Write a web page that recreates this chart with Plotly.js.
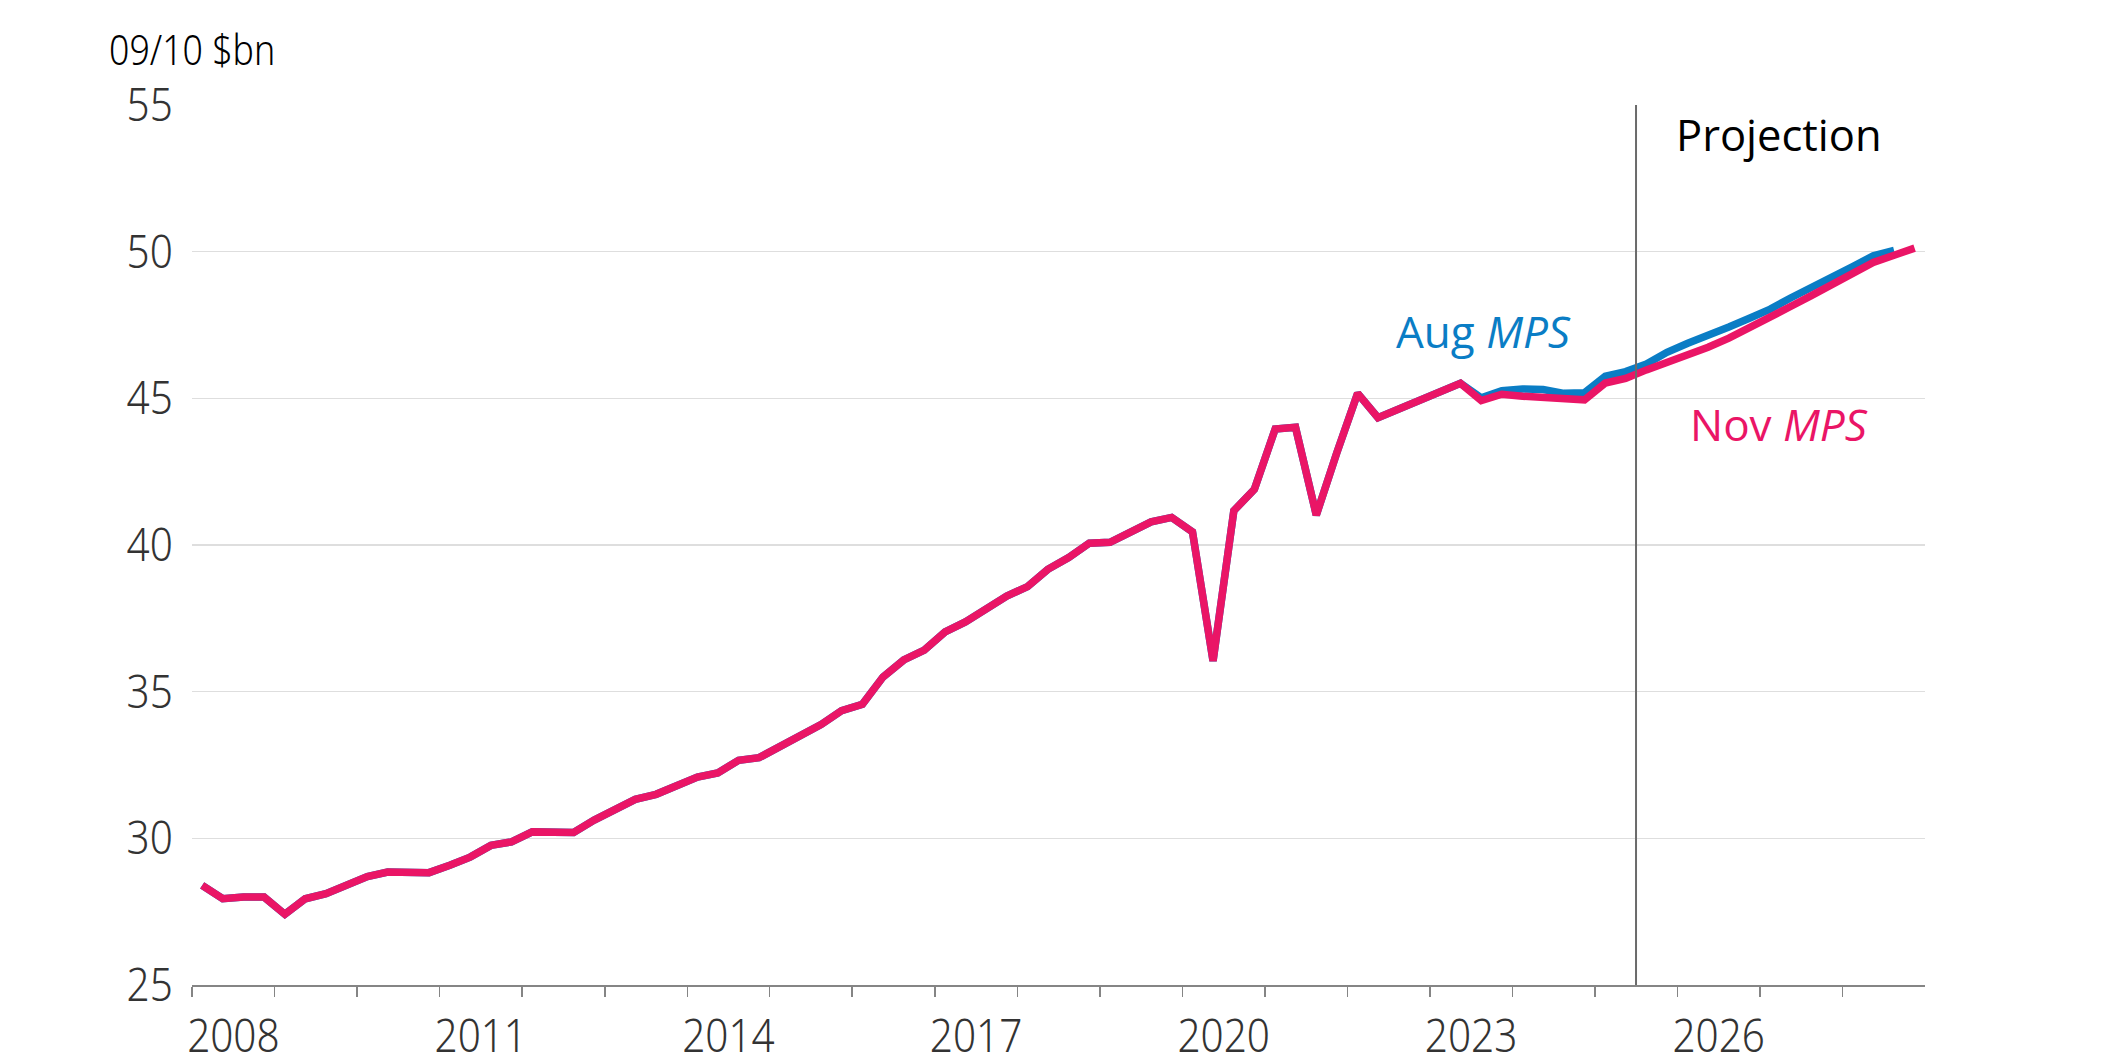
<!DOCTYPE html>
<html>
<head>
<meta charset="utf-8">
<script src="https://cdn.plot.ly/plotly-3.0.1.min.js"></script>
<style>
  html, body { margin: 0; padding: 0; background: #ffffff; }
  #chart { width: 2116px; height: 1059px; }
  /* narrow unit label */
  #chart .annotation[data-index="0"] text {
    transform-box: fill-box; transform-origin: left center; transform: scaleX(0.85);
  }
</style>
</head>
<body>
<div id="chart"></div>
<script>
// Quarterly series, 09/10 $bn. Quarters run from 2008 Q1.
const firstYear = 2008;

// Outturns common to both forecast rounds (2008 Q1 – 2023 Q2)
const sharedHistory = [
  28.40, 27.94, 28.00, 28.00, 27.41, 27.94, 28.11, 28.42,
  28.70, 28.85, 28.85, 28.83, 29.08, 29.36, 29.76, 29.88,
  30.22, 30.20, 30.20, 30.62, 30.98, 31.33, 31.50, 31.79,
  32.09, 32.23, 32.66, 32.75, 33.14, 33.48, 33.88, 34.35,
  34.57, 35.50, 36.08, 36.42, 37.04, 37.38, 37.80, 38.26,
  38.58, 39.17, 39.57, 40.06, 40.09, 40.45, 40.79, 40.94,
  40.45, 36.05, 41.17, 41.90, 43.95, 44.01, 41.02, 43.15,
  45.17, 44.34, 44.63, 44.91, 45.19, 45.51
];

// August MPS: 2023 Q3 – 2028 Q3
const augRecent = [
  45.02, 45.26, 45.32, 45.30, 45.17, 45.19, 45.75, 45.91,
  46.17, 46.57, 46.88, 47.13, 47.43, 47.73, 48.04, 48.42,
  48.76, 49.15, 49.49, 49.86, 50.04
];

// November MPS: 2023 Q3 – 2028 Q4
const novRecent = [
  44.92, 45.14, 45.07, 45.04, 44.95, 44.95, 45.52, 45.68,
  45.97, 46.22, 46.48, 46.74, 47.05, 47.43, 47.79, 48.13,
  48.50, 48.89, 49.27, 49.63, 49.88, 50.12
];

const augMPS = sharedHistory.concat(augRecent);
const novMPS = sharedHistory.concat(novRecent);

// Labelled years and axis settings
const labelYears = [2008, 2011, 2014, 2017, 2020, 2023, 2026];
const yTicks = [25, 30, 35, 40, 45, 50, 55];
const projectionStart = '2025-07-01';

const blue = '#0a7dc5';
const pink = '#ea1566';
const numberFont = '"Noto Sans", sans-serif';
const labelFont = '"Open Sans", "Noto Sans", sans-serif';

// Middle of each quarter, as a date string
function quarterDate(i) {
  const y = firstYear + Math.floor(i / 4);
  const mid = ['02-15', '05-16', '08-16', '11-15'][i % 4];
  return y + '-' + mid;
}
const datesFor = arr => arr.map((_, i) => quarterDate(i));

const yearStarts = [];
for (let y = firstYear; y <= 2028; y++) yearStarts.push(y + '-01-01');

const traces = [
  {
    x: datesFor(augMPS), y: augMPS, type: 'scatter', mode: 'lines',
    name: 'Aug MPS', line: { color: blue, width: 7.5, shape: 'linear' },
    hoverinfo: 'skip'
  },
  {
    x: datesFor(novMPS), y: novMPS, type: 'scatter', mode: 'lines',
    name: 'Nov MPS', line: { color: pink, width: 7.5, shape: 'linear' },
    hoverinfo: 'skip'
  }
];

const tickFont = { family: numberFont, size: 46, color: '#333333', weight: 300 };

const layout = {
  width: 2116, height: 1059,
  margin: { l: 192, r: 191, t: 105, b: 74, pad: 0 },
  paper_bgcolor: '#ffffff', plot_bgcolor: '#ffffff',
  showlegend: false,
  xaxis: {
    type: 'date',
    range: ['2008-01-01', '2028-12-31'],
    showgrid: false, zeroline: false,
    showline: true, linecolor: '#858585', linewidth: 2,
    tickmode: 'array',
    tickvals: labelYears.map(y => y + '-07-02'),
    ticktext: labelYears.map(String),
    ticks: 'outside', ticklen: 10, tickcolor: 'rgba(0,0,0,0)',
    tickfont: tickFont,
    minor: {
      tickmode: 'array', tickvals: yearStarts,
      ticks: 'outside', ticklen: 10, tickwidth: 1.5, tickcolor: '#858585',
      showgrid: false
    },
    fixedrange: true
  },
  yaxis: {
    range: [25, 55],
    tickmode: 'array', tickvals: yTicks,
    showgrid: true, gridcolor: '#dedede', gridwidth: 1.5,
    zeroline: false, showline: false,
    ticks: 'outside', ticklen: 9, tickcolor: 'rgba(0,0,0,0)',
    tickfont: tickFont,
    fixedrange: true
  },
  shapes: [
    {
      type: 'line', xref: 'x', yref: 'y',
      x0: projectionStart, x1: projectionStart, y0: 25, y1: 55,
      line: { color: '#6b6b6b', width: 2 }
    }
  ],
  annotations: [
    {
      text: '09/10 $bn', xref: 'paper', yref: 'paper',
      x: -0.049, y: 1.064, xanchor: 'left', yanchor: 'middle',
      showarrow: false, font: { family: numberFont, size: 42, color: '#000000', weight: 300 }
    },
    {
      text: 'Projection', xref: 'x', yref: 'y',
      x: '2027-03-25', y: 53.99, xanchor: 'center', yanchor: 'middle',
      showarrow: false, font: { family: labelFont, size: 43.5, color: '#000000' }
    },
    {
      text: 'Aug <i>MPS</i>', xref: 'x', yref: 'y',
      x: '2023-08-24', y: 47.31, xanchor: 'center', yanchor: 'middle',
      showarrow: false, font: { family: labelFont, size: 44, color: blue }
    },
    {
      text: 'Nov <i>MPS</i>', xref: 'x', yref: 'y',
      x: '2027-03-25', y: 44.14, xanchor: 'center', yanchor: 'middle',
      showarrow: false, font: { family: labelFont, size: 44, color: pink }
    }
  ]
};

// Narrow the axis numbers horizontally about their anchor point
function narrowTickLabels(gd) {
  gd.querySelectorAll('.xtick text, .ytick text').forEach(t => {
    if (t.dataset.narrowed) return;
    const ax = parseFloat(t.getAttribute('x')) || 0;
    const base = t.getAttribute('transform') || '';
    t.setAttribute('transform',
      base + ' translate(' + ax + ',0) scale(0.88,1) translate(' + (-ax) + ',0)');
    t.dataset.narrowed = '1';
  });
}

Plotly.newPlot('chart', traces, layout, { displayModeBar: false, staticPlot: true })
  .then(gd => narrowTickLabels(gd));
</script>
</body>
</html>
